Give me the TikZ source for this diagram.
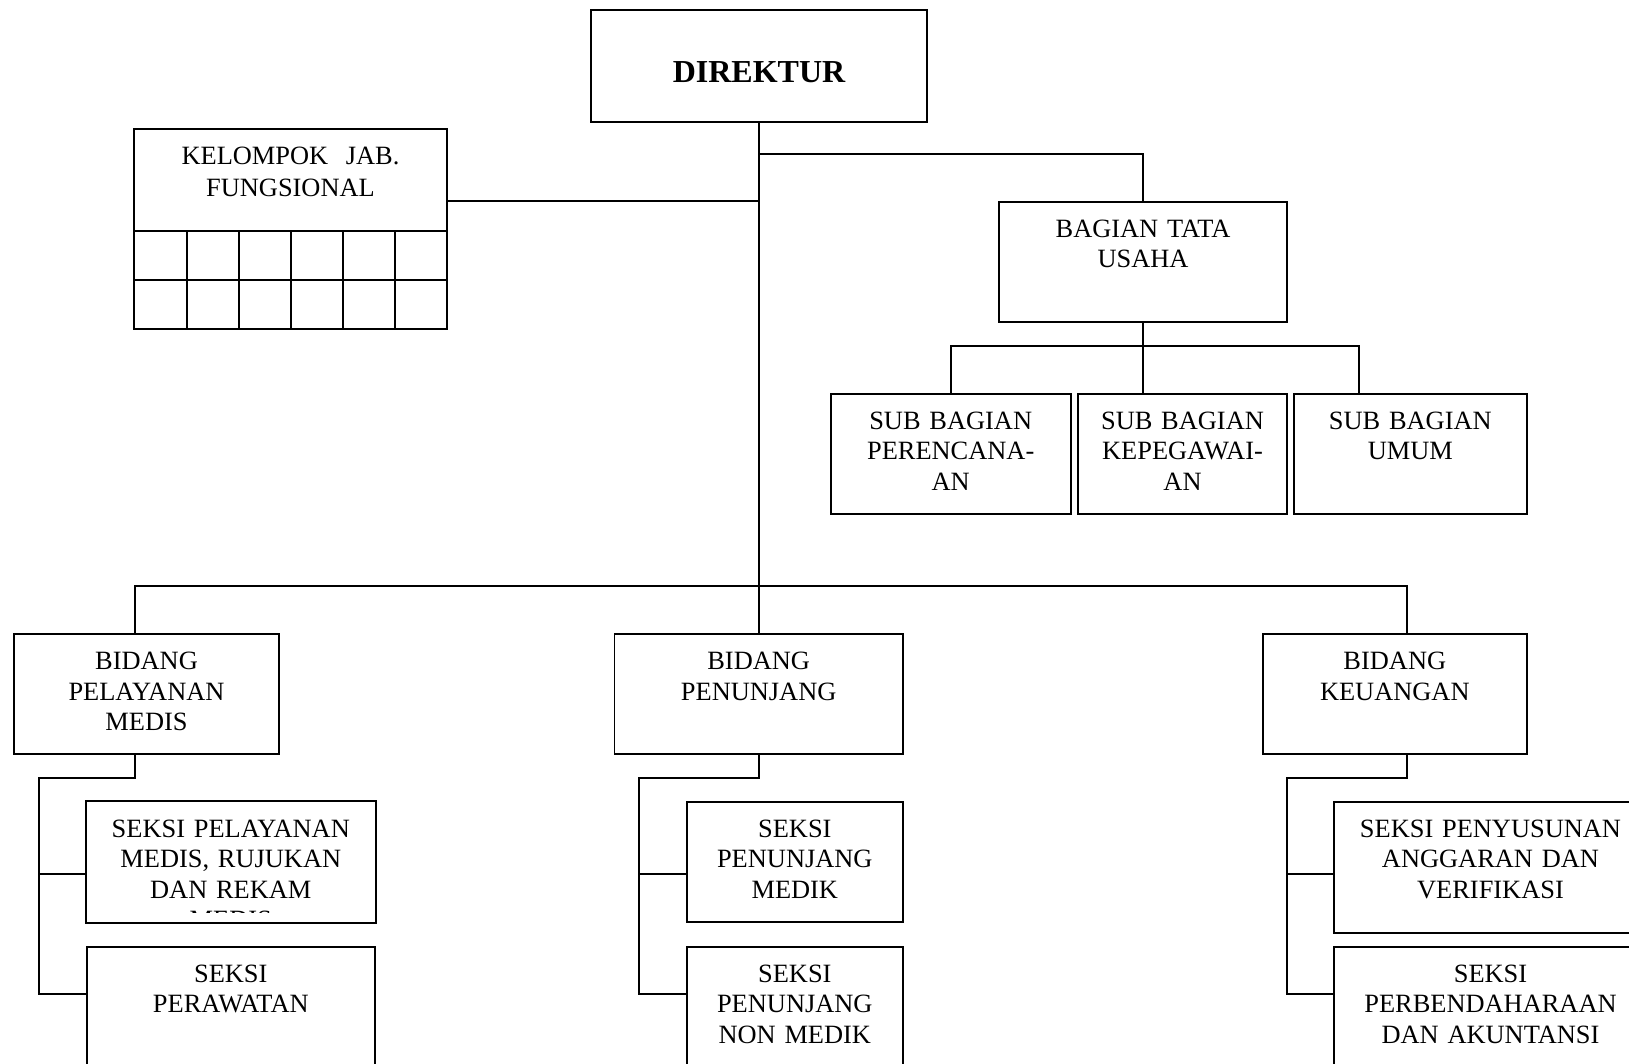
\documentclass[tikz,border=0pt]{standalone}
\usepackage{fontspec}
\setmainfont{Liberation Serif}

\newcommand{\unitfont}{\fontsize{13.2}{15.25}\selectfont}
\newcommand{\headfont}{\fontsize{16}{19}\selectfont\bfseries}

\begin{document}
\begin{tikzpicture}[x=0.5pt, y=-0.5pt, line width=0.85pt,
    unitbox/.style={draw, align=center, inner sep=0pt, font=\unitfont, text height=17.7pt, text depth=42.3pt},
    headbox/.style={draw, align=center, inner sep=0pt, font=\headfont, text height=36.45pt, text depth=19.7pt}]

\useasboundingbox (0,0) rectangle (1629,1064);

% Direktur
\node[headbox, text width=168.3pt] (dir) at (759,65.85) {DIREKTUR};

% Kelompok jabatan fungsional
\node[unitbox, text width=156.2pt, text depth=82.15pt] (kjf) at (290.5,229.2) {KELOMPOK\ \ JAB.\\[0.75pt]FUNGSIONAL};
\foreach \y in {231.3,280}
    \draw (134.3,\y) -- (446.7,\y);
\foreach \x in {186.7,238.7,290.7,342.7,394.7}
    \draw (\x,231.3) -- (\x,329);

% Bagian Tata Usaha
\node[unitbox, text width=144pt] (tu) at (1143,262) {BAGIAN TATA\\USAHA};
\node[unitbox, text width=120pt] (sb1) at (950.7,454) {SUB BAGIAN\\PERENCANA-\\AN};
\node[unitbox, text width=104.8pt] (sb2) at (1182.5,454) {SUB BAGIAN\\KEPEGAWAI-\\AN};
\node[unitbox, text width=116.65pt] (sb3) at (1410.3,454) {SUB BAGIAN\\UMUM};

% Bidang
\node[unitbox, text width=132.5pt] (b1) at (146.5,694.2) {BIDANG\\PELAYANAN\\MEDIS};
\node[unitbox, text width=144.35pt] (b2) at (758.7,694.2) {BIDANG\\PENUNJANG};
\node[unitbox, text width=132.15pt] (b3) at (1394.8,694.2) {BIDANG\\KEUANGAN};

% Seksi
\begin{scope}
    \clip (86.7,802) rectangle (375,912);
    \node[unitbox, draw=none, text width=144.15pt] (s11) at (230.8,862) {SEKSI PELAYANAN\\MEDIS, RUJUKAN\\DAN REKAM\\MEDIS};
\end{scope}
\draw (s11.north west) rectangle (s11.south east);
\node[unitbox, text width=144.15pt] (s12) at (230.8,1007) {SEKSI\\PERAWATAN};

\node[unitbox, text width=108.15pt] (s21) at (794.8,862) {SEKSI\\PENUNJANG\\MEDIK};
\node[unitbox, text width=108.15pt] (s22) at (794.8,1007) {SEKSI\\PENUNJANG\\NON MEDIK};

\node[unitbox, text width=156.2pt, text depth=47.8pt] (s31) at (1490.5,867.5) {SEKSI PENYUSUNAN\\ANGGARAN DAN\\VERIFIKASI};
\node[unitbox, text width=156.2pt] (s32) at (1490.5,1007) {SEKSI\\PERBENDAHARAAN\\DAN AKUNTANSI};

% Connectors
\coordinate (t0) at (759,154);
\coordinate (f0) at (759,200.7);
\coordinate (u1) at (950.7,346);
\coordinate (u3) at (1359,346);
\coordinate (j1) at (135,586);
\coordinate (j2) at (759,586);
\coordinate (j3) at (1407,586);
\coordinate (k1) at (39,778);
\coordinate (k2) at (639,778);
\coordinate (k3) at (1286.7,778);
\coordinate (y1) at (0,874);
\coordinate (y2) at (0,994);

\draw (dir.south) -- (dir.south |- b2.north);
\draw (t0) -| (tu.north);
\draw (f0) -- (f0 -| kjf.east);
\draw (tu.south) -- (tu.south |- sb2.north);
\draw (u1 |- sb1.north) -- (u1) -- (u3) -- (u3 |- sb3.north);
\draw (j1 |- b1.north) -- (j1) -- (j3) -- (j3 |- b3.north);

\foreach \i in {1,2,3} {
    \draw (j\i |- b\i.south) |- (k\i) |- (s\i2.west |- y2);
    \draw (k\i |- y1) -- (s\i1.west |- y1);
}

\end{tikzpicture}
\end{document}
